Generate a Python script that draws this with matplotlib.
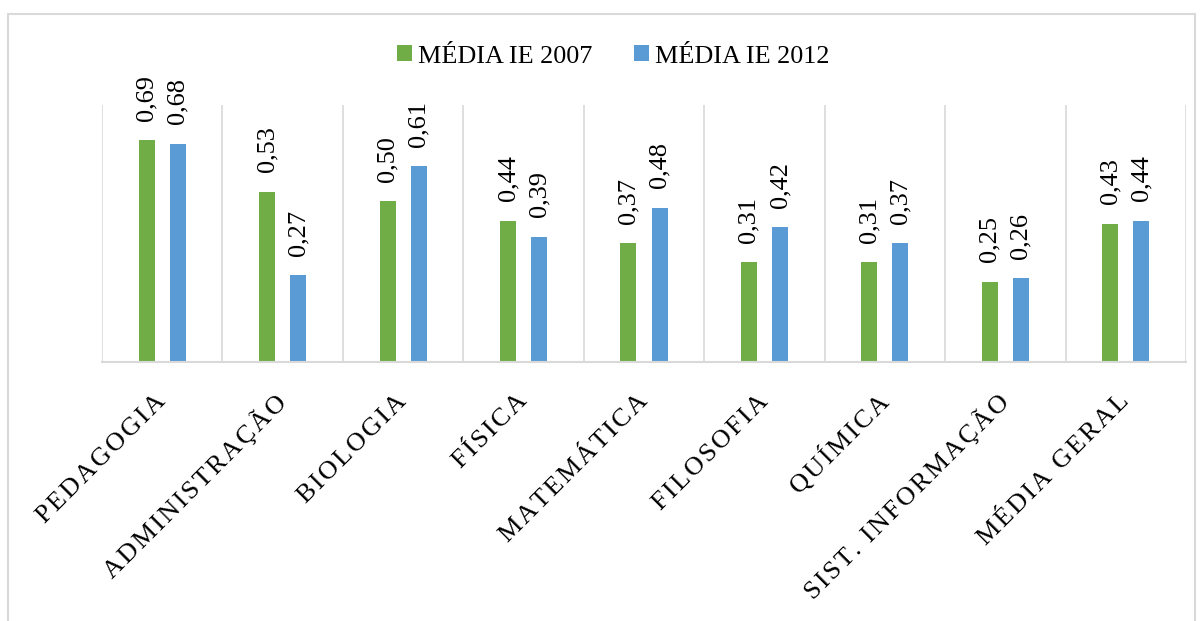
import numpy as np
import matplotlib
matplotlib.use('Agg')
import matplotlib.pyplot as plt
from matplotlib.patches import Rectangle

cursos = ['PEDAGOGIA', 'ADMINISTRAÇÃO', 'BIOLOGIA', 'FÍSICA', 'MATEMÁTICA',
          'FILOSOFIA', 'QUÍMICA', 'SIST. INFORMAÇÃO', 'MÉDIA GERAL']
media_2007 = [0.69, 0.53, 0.50, 0.44, 0.37, 0.31, 0.31, 0.25, 0.43]
media_2012 = [0.68, 0.27, 0.61, 0.39, 0.48, 0.42, 0.37, 0.26, 0.44]
series_names = ['MÉDIA IE 2007', 'MÉDIA IE 2012']

verde = '#70AD47'
azul = '#5B9BD5'
cinza = '#D9D9D9'

plt.rcParams['font.family'] = ['Liberation Serif', 'DejaVu Serif']

fig = plt.figure(figsize=(12.03, 6.21), dpi=100)
ax = fig.add_axes([0.0848, 0.4171, 0.9011, 0.4138])

x = np.arange(len(cursos))
w = 0.133
off = 0.129
b1 = ax.bar(x - off, media_2007, w, color=verde, label=series_names[0])
b2 = ax.bar(x + off, media_2012, w, color=azul, label=series_names[1])

# rotated value labels
for bars in (b1, b2):
    for r in bars:
        v = r.get_height()
        ax.annotate(('%.2f' % v).replace('.', ','),
                    (r.get_x() + r.get_width() / 2, v),
                    xytext=(0, 14), textcoords='offset points',
                    rotation=90, ha='center', va='bottom', fontsize=19)

ax.set_xlim(-0.5, len(cursos) - 0.5)
ax.set_ylim(0, 0.8)

# category separators
for b in np.arange(-0.5, len(cursos), 1.0):
    ax.axvline(b, color=cinza, lw=1.2, zorder=0)

for s in ['top', 'right', 'left']:
    ax.spines[s].set_visible(False)
ax.spines['bottom'].set_color(cinza)
ax.spines['bottom'].set_linewidth(1.5)
ax.set_yticks([])
ax.set_xticks(x)
# spread letters a bit like the original
sp = '\u200a'
labels = [sp.join(list(c)) for c in cursos]
ax.set_xticklabels(labels, rotation=45, ha='right', va='center',
                   rotation_mode='anchor', fontsize=19)
ax.tick_params(axis='x', length=0, pad=26)

leg = fig.legend(handles=[b1, b2], loc='center', bbox_to_anchor=(0.510, 0.909),
                 ncol=2, frameon=False, fontsize=18.8, handlelength=0.55,
                 handleheight=0.55, handletextpad=0.25, columnspacing=1.6)

# outer chart border
fig.patches.append(Rectangle((8 / 1203, -0.1), 1187 / 1203, 0.1 + 1 - 14 / 621,
                             transform=fig.transFigure, fill=False,
                             edgecolor=cinza, lw=1.5))

fig.savefig('out.png', dpi=100)
